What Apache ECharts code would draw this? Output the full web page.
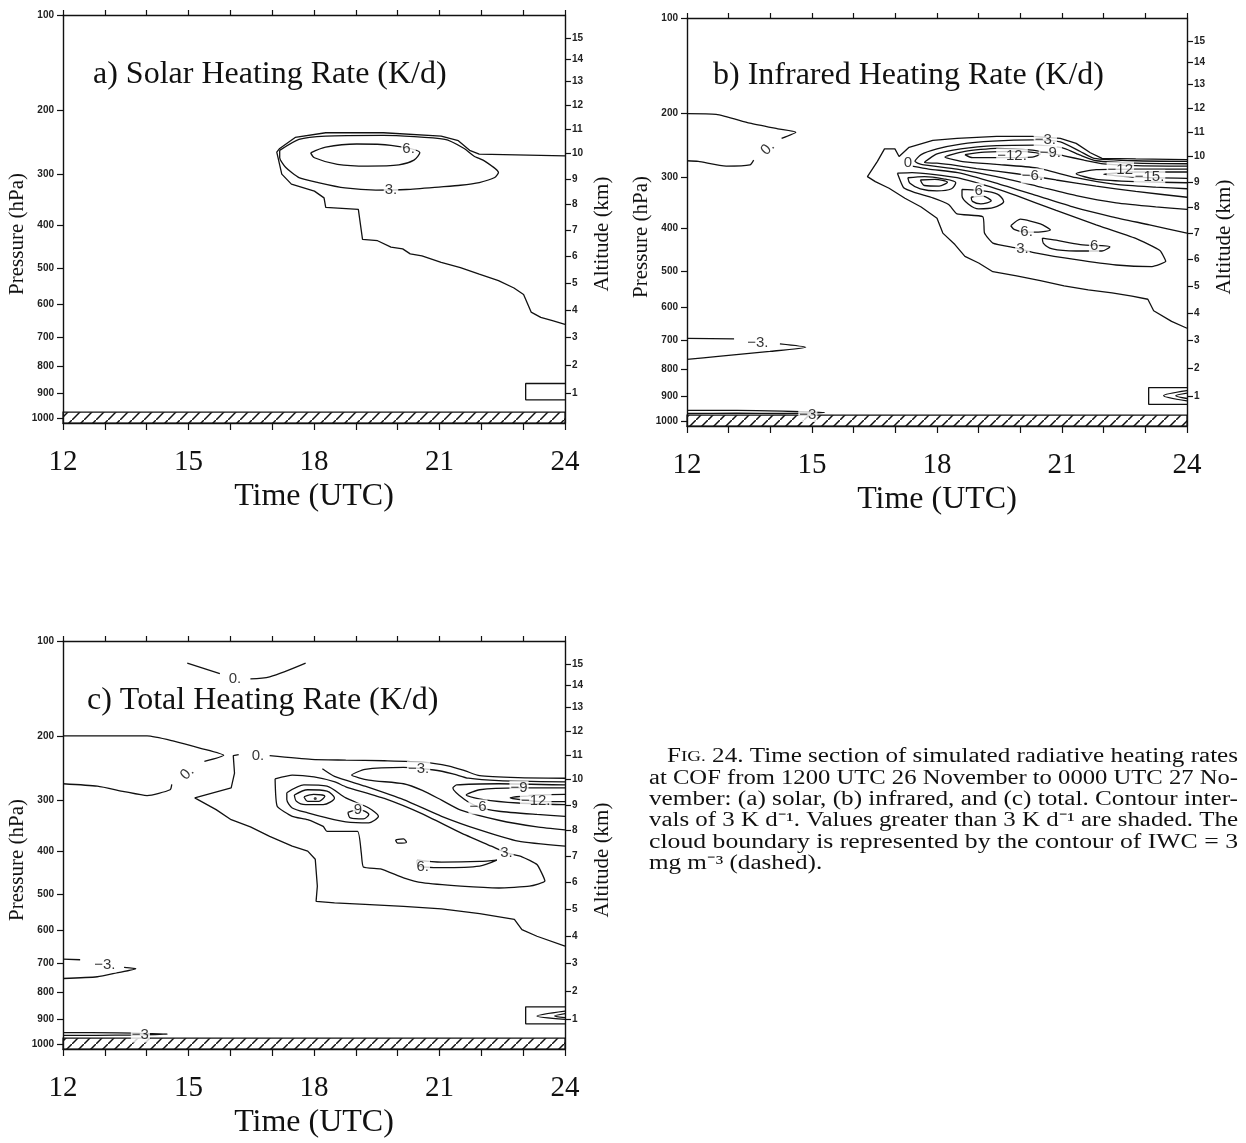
<!DOCTYPE html>
<html>
<head>
<meta charset="utf-8">
<title>Fig. 24 radiative heating rates</title>
<script src="https://cdn.jsdelivr.net/npm/echarts@6.0.0/dist/echarts.min.js"></script>
<style>
html,body{margin:0;padding:0;background:#fff}
#main{width:1246px;height:1143px}
</style>
</head>
<body>
<div id="main"></div>
<script>
// axis ticks
var pressureTicks = [100, 200, 300, 400, 500, 600, 700, 800, 900, 1000];
var altitudeTicks = [1, 2, 3, 4, 5, 6, 7, 8, 9, 10, 11, 12, 13, 14, 15];
var timeTicks = [12, 13, 14, 15, 16, 17, 18, 19, 20, 21, 22, 23, 24];
var timeLabels = [12, 15, 18, 21, 24];

// contours: [time UTC, pressure hPa]
// a) solar
var aBoundary = [[24,268],[21.95,265],[21.72,259],[21.45,244],[21.04,237],[19.66,232],[18.28,232],[17.55,239],[17.18,256],[17.11,262],[17.23,299],[17.46,317],[18.01,330],[18.24,343],[18.28,362],[19.06,366],[19.16,431],[19.52,434],[19.84,449],[20.12,453],[20.3,465],[20.58,470],[21.04,486],[21.5,499],[21.95,516],[22.41,533],[22.78,553],[23.01,571],[23.19,622],[23.42,638],[23.7,648],[24,659]];
var aThree = [[17.18,259],[17.64,242],[18.28,237],[19.66,236],[21.13,242],[21.59,256],[21.82,268],[22.09,277],[22.41,296],[22.32,305],[21.95,314],[21.5,319],[21.04,322],[20.21,327],[19.48,328],[18.74,324],[18.1,314],[17.64,305],[17.32,287],[17.18,271]];
var aSix = [[17.92,263],[18.28,254],[19.02,249],[19.84,251],[20.53,263],[20.39,275],[20.03,283],[19.29,285],[18.56,282],[18.01,271]];
var aBox = [[24,862],[23.06,862],[23.06,925],[24,925]];
var aLabels = [[20.26,257,'6.'],[19.84,328,'3.']];

// b) infrared
var bBoundary = [[24,269],[22.77,268],[21.96,267],[21.68,258],[21.34,243.5],[20.96,236],[20.29,233],[19.43,233],[18.48,236],[17.9,239],[17.33,249.5],[17.09,264],[16.99,252],[16.74,252],[16.57,272],[16.33,298],[16.52,307],[16.85,319],[17.23,338],[17.62,355],[18.0,378],[18.14,410],[18.43,436],[18.67,464],[19.0,480],[19.34,502],[19.91,513],[20.48,525],[21.05,539],[21.63,550],[22.2,558],[22.68,567],[23.06,576],[23.2,609],[23.63,641],[24,662]];
var bMinus3 = [[24,272],[22.77,271],[21.77,267],[21.44,256],[20.96,241],[20.29,238],[19.34,240],[18.57,244.5],[18.0,252],[17.62,261],[17.47,272],[17.62,277],[18.48,285],[19.43,298],[20.39,315],[21.34,333],[22.3,347],[23.25,355],[24,360]];
var bMinus6 = [[24,276],[22.77,275],[21.82,271],[21.44,262],[21.05,251],[20.39,246],[19.43,247],[18.57,252],[18.0,260],[17.7,274],[18.0,275],[18.48,279],[18.95,284],[19.91,293],[20.29,297],[20.86,304],[21.82,315],[22.77,325],[24,336]];
var bMinus9 = [[24,280],[22.77,279],[22.0,276],[21.53,270],[21.05,263],[20.72,259],[20.29,254],[19.43,251],[18.67,256],[18.19,265],[18.67,273],[19.43,277],[20.39,283],[21.34,300],[22.3,312],[23.25,317],[24,320]];
var bMinus12Left = [[18.67,261],[19.14,257],[20.0,256],[20.48,260],[20.29,265],[19.53,266],[18.86,266]];
var bMinus12Right = [[24,285],[22.77,285],[21.82,286],[21.34,293],[21.82,303],[22.77,307],[24,309]];
var bMinus15 = [[24,290],[22.77,290],[22.0,294],[22.77,299],[24,301]];
var bZero = [[17.4,280],[17.8,285],[18.5,291],[19.4,309],[20.4,333],[21.3,356],[22.2,375],[23.1,392],[24,410]];
var bThree = [[17.05,292],[17.4,291],[17.9,294],[18.48,300],[19.43,320],[19.91,333],[20.86,362],[21.82,392],[22.77,422],[23.35,450],[23.49,476],[23.16,489],[22.3,485],[21.34,472],[20.39,456],[19.91,444],[19.34,432.5],[19.14,410],[19.1,375],[18.48,369],[18.28,350],[17.9,337],[17.47,327],[17.2,318]];
var bSixA = [[17.3,300],[17.7,298],[18.15,302],[18.45,309],[18.35,320],[18.0,324],[17.6,320],[17.35,310]];
var bNineA = [[17.6,304],[17.95,303],[18.25,308],[18.05,315],[17.7,314]];
var bSixB = [[18.6,321],[19.0,323],[19.45,330],[19.6,344],[19.37,356],[19.0,359],[18.75,349],[18.6,333]];
var bNineB = [[18.82,336],[19.1,334],[19.3,343],[19.05,349],[18.85,344]];
var bSixC = [[19.77,394],[20.0,380],[20.48,390],[20.72,403],[20.43,408],[20.1,408],[19.85,402]];
var bSixD = [[20.53,421],[20.86,426],[21.44,436],[22.15,441],[21.96,451],[21.34,451],[20.77,446],[20.55,432.5]];
var bUpperZero1 = [[12,201],[12.7,202],[13.51,214],[14.18,222],[14.61,227],[14.27,236]];
var bUpperZero2 = [[13.6,270],[13.51,278],[12.94,280],[12.27,272],[12,271]];
var bLowMinus3a = [[12,694],[13.13,696]];
var bLowMinus3b = [[14.23,712],[14.85,723],[13.99,737],[12.75,754],[12,764]];
var bSurfMinus3 = [[12,955],[13.2,955],[14.3,958],[15.3,964],[14.3,968],[13.2,967],[12,968]];
var bBox = [[24,866],[23.08,866],[23.08,931],[24,931]];
var bBoxIn1 = [[24,878],[23.44,897],[24,917]];
var bBoxIn2 = [[24,887],[23.73,897],[24,908]];
var bLabels = [[20.6,238.5,'\u22123.'],[19.8,263,'\u221212.'],[20.72,259,'\u22129.'],[20.29,297,'\u22126.'],[22.4,285.5,'\u221212'],[23.1,299,'\u221215.'],[17.3,274,'0'],[19.0,323,'6'],[20.15,408,'6.'],[21.77,439,'6'],[20.05,447,'3.'],[13.7,708,'\u22123.'],[14.9,972,'\u22123']];
var bTilted = [[13.94,251,'0.']];

// c) total
var cTopZero1 = [[14.97,119],[15.75,129]];
var cTopZero2 = [[16.48,134],[16.94,132],[17.8,119]];
var cLeftZero1 = [[12,200],[14.01,200],[14.65,207],[15.29,217],[15.84,227],[15.38,236]];
var cLeftZero2 = [[14.6,272],[14.56,281],[14.01,291],[13.46,284],[12.82,275],[12,271]];
var cZeroTop = [[16.94,227.5],[17.94,233],[18.76,234],[19.68,235],[20.59,237],[21.23,243],[21.6,250],[21.96,258],[22.88,261],[24,262]];
var cZeroCloud = [[16.2,226],[16.07,227.5],[16.1,254],[16.02,278],[15.15,295],[15.66,316],[16.02,335],[16.48,349],[16.94,368],[17.48,388.5],[17.85,399],[18.03,417],[18.08,480.5],[18.05,519],[18.49,523],[19.22,527],[20.14,532.5],[21.05,539],[21.96,552],[22.79,568],[22.97,597],[23.33,616.5],[24,646.5]];
var cZeroLower = [[18.2,247],[18.49,259],[19.22,275],[20.14,298],[21.05,328.5],[21.96,355],[22.88,378],[24,388.5]];
var cMinus3 = [[24,268],[22.42,266],[21.69,262],[21.32,255],[20.87,249],[20.14,245],[19.22,248],[18.9,257],[19.31,265],[20.14,271],[20.59,282],[21.05,299],[21.51,317],[22.42,336],[23.33,349],[24,355]];
var cMinus6 = [[24,273],[22.42,271],[21.41,273],[21.32,278],[21.6,298],[21.92,311],[22.42,319],[23.33,325],[24,328.5]];
var cMinus9 = [[24,278],[22.88,278],[21.96,281],[21.64,290],[22.05,298],[22.88,304],[24,307]];
var cMinus12 = [[24,289],[23.33,290],[22.69,295],[23.33,301],[24,301.5]];
var cThree = [[17.07,263],[17.48,257],[18.0,260],[18.5,268],[18.76,276],[19.68,296],[20.59,324],[21.51,361],[22.24,388.5],[22.6,403],[22.97,411.5],[23.33,429],[23.52,468],[23.15,480.5],[22.42,485],[21.51,480.5],[20.59,472],[20.14,460],[19.59,439],[19.18,434.5],[19.13,403],[19.04,358],[18.31,358],[18.22,348],[17.85,335],[17.48,328.5],[17.12,310]];
var cSix = [[17.35,286],[17.76,273],[18.31,275],[18.76,295],[19.31,313],[19.54,328.5],[19.31,341],[18.76,339],[18.31,331.5],[17.85,322],[17.48,313],[17.35,298]];
var cNine = [[17.53,290],[17.85,281],[18.31,283.5],[18.49,295],[18.22,307],[17.8,307],[17.58,301]];
var cTwelve = [[17.76,293],[17.99,289],[18.26,292],[18.12,301],[17.85,301]];
var cNineB = [[18.81,321],[19.08,316],[19.31,325],[19.18,333.5],[18.87,331.5]];
var cSixB = [[20.46,419],[21.05,423.5],[21.96,422],[22.37,419],[21.96,432.5],[21.05,436],[20.5,432.5]];
var cSmall = [[19.95,375],[20.14,373],[20.21,380],[20.0,382]];
var cPeak = [[18.03,296]];
var cLowMinus3a = [[12,687],[12.41,689]];
var cLowMinus3b = [[13.46,714],[13.74,718],[13.28,732],[12.82,745],[12,751]];
var cSurfMinus3 = [[12,952],[13.3,953],[14.1,956],[14.5,958],[13.7,962],[12.8,963],[12,963]];
var cBox = [[24,852],[23.06,852],[23.06,917],[24,917]];
var cBoxIn1 = [[24,868],[23.33,887],[24,900]];
var cBoxIn2 = [[24,878],[23.75,887],[24,893]];
var cLabels = [[16.11,134,'0.'],[16.66,228.5,'0.'],[20.5,247,'\u22123.'],[21.92,311,'\u22126'],[22.9,278.5,'\u22129'],[23.3,301,'\u221212.'],[22.6,403,'3.'],[20.6,434,'6.'],[19.05,317,'9'],[13.0,706,'\u22123.'],[13.85,962,'\u22123']];
var cTilted = [[14.97,254,'0.']];

// ground
var surfaceTop = 975, surfaceBottom = 1020;

var INK = '#111';
var K = 0.286;
function sig(p) { return Math.pow(p / 1000, K); }
function pres(v) { return 1000 * Math.pow(v, 1 / K); }
// standard atmosphere, km <-> hPa
function pStd(z) {
	if (z <= 11) return 1013.25 * Math.pow(1 - 0.0065 * z * 1000 / 288.15, 5.25588);
	return 226.32 * Math.exp(-(z - 11) * 1000 * 9.80665 / (287.053 * 216.65));
}
function zStd(p) {
	if (p >= 226.32) return 288.15 / 0.0065 * (1 - Math.pow(p / 1013.25, 1 / 5.25588)) / 1000;
	return 11 + 287.053 * 216.65 / 9.80665 * Math.log(226.32 / p) / 1000;
}

function hatch() {
	var c = document.createElement('canvas');
	c.width = 12; c.height = 12;
	var g = c.getContext('2d');
	g.strokeStyle = INK; g.lineWidth = 1.5;
	g.beginPath();
	g.moveTo(-1, 13); g.lineTo(13, -1);
	g.stroke();
	return c;
}
var hatchImg = hatch();

var series = [];
function line(panel, pts, smooth, closed) {
	var d = pts.map(function (q) { return [q[0], sig(q[1])]; });
	if (closed) d.push(d[0]);
	series.push({
		type: 'line', xAxisIndex: 2 * panel, yAxisIndex: 2 * panel,
		data: d, symbol: 'none', smooth: smooth || 0, silent: true, z: 3,
		lineStyle: { color: INK, width: 1.3 }
	});
}
function labels(panel, items, rot) {
	series.push({
		type: 'scatter', xAxisIndex: 2 * panel, yAxisIndex: 2 * panel, silent: true, z: 5,
		symbolSize: 1, itemStyle: { color: 'rgba(0,0,0,0)' },
		data: items.map(function (q) { return { value: [q[0], sig(q[1])], name: q[2] }; }),
		label: {
			show: true, position: 'inside', formatter: '{b}', rotate: rot || 0,
			fontFamily: 'Liberation Sans', fontSize: 15, color: '#000',
			backgroundColor: '#fff', padding: [0, 1]
		}
	});
}
function ground(panel) {
	series.push({
		type: 'line', xAxisIndex: 2 * panel, yAxisIndex: 2 * panel, data: [], silent: true,
		markArea: {
			silent: true,
			itemStyle: { color: { image: hatchImg, repeat: 'repeat' }, borderColor: INK, borderWidth: 1.2 },
			data: [[{ coord: [12, sig(surfaceTop)] }, { coord: [24, sig(surfaceBottom)] }]]
		}
	});
}

// a
line(0, aBoundary); line(0, aThree, 0.2, true); line(0, aSix, 0.3, true); line(0, aBox);
labels(0, aLabels); ground(0);
// b
line(1, bBoundary); line(1, bMinus3, 0.2); line(1, bMinus6, 0.2); line(1, bMinus9, 0.2);
line(1, bMinus12Left, 0.3, true); line(1, bMinus12Right, 0.2); line(1, bMinus15, 0.2);
line(1, bZero, 0.2); line(1, bThree, 0.15, true);
line(1, bSixA, 0.3, true); line(1, bNineA, 0.3, true); line(1, bSixB, 0.3, true); line(1, bNineB, 0.3, true);
line(1, bSixC, 0.2, true); line(1, bSixD, 0.3, true);
line(1, bUpperZero1, 0.2); line(1, bUpperZero2, 0.2);
line(1, bLowMinus3a); line(1, bLowMinus3b, 0.2); line(1, bSurfMinus3, 0.2);
line(1, bBox); line(1, bBoxIn1, 0.3); line(1, bBoxIn2, 0.3);
labels(1, bLabels); labels(1, bTilted, 45); ground(1);
// c
line(2, cTopZero1, 0.2); line(2, cTopZero2, 0.3);
line(2, cLeftZero1, 0.2); line(2, cLeftZero2, 0.2);
line(2, cZeroTop, 0.2); line(2, cZeroCloud); line(2, cZeroLower, 0.2);
line(2, cMinus3, 0.2); line(2, cMinus6, 0.2); line(2, cMinus9, 0.2); line(2, cMinus12, 0.2);
line(2, cThree, 0.15, true); line(2, cSix, 0.25, true); line(2, cNine, 0.3, true); line(2, cTwelve, 0.3, true);
line(2, cNineB, 0.3, true); line(2, cSixB, 0.3, true); line(2, cSmall, 0.3, true);
line(2, cLowMinus3a); line(2, cLowMinus3b, 0.2); line(2, cSurfMinus3, 0.2);
line(2, cBox); line(2, cBoxIn1, 0.3); line(2, cBoxIn2, 0.3);
labels(2, cLabels); labels(2, cTilted, 45); ground(2);
series.push({
	type: 'scatter', xAxisIndex: 4, yAxisIndex: 4, silent: true, z: 4, symbolSize: 3,
	itemStyle: { color: INK }, data: cPeak.map(function (q) { return [q[0], sig(q[1])]; })
});

var axisLine = { show: true, onZero: false, lineStyle: { color: INK, width: 1.4 } };
var xAxes = [], yAxes = [];
for (var g = 0; g < 3; g++) {
	xAxes.push({
		gridIndex: g, type: 'value', min: 12, max: 24, interval: 1, position: 'bottom',
		axisLine: axisLine,
		axisTick: { show: true, length: 7, customValues: timeTicks, lineStyle: { color: INK, width: 1.2 } },
		axisLabel: { customValues: timeLabels, fontFamily: 'Liberation Serif', fontSize: 29, color: INK, margin: 25 },
		splitLine: { show: false },
		name: 'Time (UTC)', nameLocation: 'middle', nameGap: 58,
		nameTextStyle: { fontFamily: 'Liberation Serif', fontSize: 32, color: INK }
	});
	xAxes.push({
		gridIndex: g, type: 'value', min: 12, max: 24, interval: 1, position: 'top',
		axisLine: axisLine,
		axisTick: { show: true, length: 5, lineStyle: { color: INK, width: 1.2 } },
		axisLabel: { show: false }, splitLine: { show: false }
	});
	yAxes.push({
		gridIndex: g, type: 'value', inverse: true, min: sig(100), max: sig(surfaceBottom), position: 'left',
		axisLine: axisLine,
		axisTick: { show: true, length: 6, customValues: pressureTicks.map(sig), lineStyle: { color: INK, width: 1.2 } },
		axisLabel: {
			customValues: pressureTicks.map(sig),
			formatter: function (v) { return String(Math.round(pres(v))); },
			fontFamily: 'Liberation Sans', fontSize: 10, fontWeight: 'bold', color: '#222', margin: 9
		},
		splitLine: { show: false },
		name: 'Pressure (hPa)', nameLocation: 'middle', nameGap: 28, nameRotate: 90,
		nameTextStyle: { fontFamily: 'Liberation Serif', fontSize: 21, color: INK, padding: [0, 30, 0, 0] }
	});
	yAxes.push({
		gridIndex: g, type: 'value', inverse: true, min: sig(100), max: sig(surfaceBottom), position: 'right',
		axisLine: axisLine,
		axisTick: { show: true, length: 6, customValues: altitudeTicks.map(function (z) { return sig(pStd(z)); }), lineStyle: { color: INK, width: 1.2 } },
		axisLabel: {
			customValues: altitudeTicks.map(function (z) { return sig(pStd(z)); }),
			formatter: function (v) { return String(Math.round(zStd(pres(v)))); },
			fontFamily: 'Liberation Sans', fontSize: 10, fontWeight: 'bold', color: '#222', margin: 7
		},
		splitLine: { show: false },
		name: 'Altitude (km)', nameLocation: 'middle', nameGap: 27, nameRotate: 90,
		nameTextStyle: { fontFamily: 'Liberation Serif', fontSize: 21, color: INK, padding: [0, 30, 0, 0] }
	});
}

// caption, each line stretched to the column width like the justified original
var captionLines = [
	[['F', 1], ['IG.', 0.76], [' 24. Time section of simulated radiative heating rates', 1]],
	[['at COF from 1200 UTC 26 November to 0000 UTC 27 No-', 1]],
	[['vember: (a) solar, (b) infrared, and (c) total. Contour inter-', 1]],
	[['vals of 3 K d\u207B\u00B9. Values greater than 3 K d\u207B\u00B9 are shaded. The', 1]],
	[['cloud boundary is represented by the contour of IWC = 3', 1]],
	[['mg m\u207B\u00B3 (dashed).', 1]]
];
var capLeft = [667, 649, 649, 649, 649, 649], capRight = 1238;
var capY = [757, 779, 800, 821, 843, 864], capSize = 20;
var mctx = document.createElement('canvas').getContext('2d');
var graphics = [], scales = [];
captionLines.forEach(function (segs, i) {
	var w = 0, rich = {}, txt = '';
	segs.forEach(function (sg, j) {
		var fs = capSize * sg[1];
		mctx.font = fs + 'px "Liberation Serif"';
		w += mctx.measureText(sg[0]).width;
		rich['s' + j] = { fontSize: fs, fontFamily: 'Liberation Serif', fill: INK };
		txt += '{s' + j + '|' + sg[0] + '}';
	});
	var k = (capRight - capLeft[i]) / w;
	if (i < captionLines.length - 1) scales.push(k);
	else k = scales.reduce(function (a, b) { return a + b; }, 0) / scales.length;
	graphics.push({
		type: 'text', x: capLeft[i], y: capY[i], scaleX: k, silent: true,
		style: { text: txt, rich: rich, fill: INK, fontFamily: 'Liberation Serif', fontSize: capSize,
			verticalAlign: 'middle', textVerticalAlign: 'middle' }
	});
});

var titleStyle = { fontFamily: 'Liberation Serif', fontSize: 32, fontWeight: 'normal', color: INK };
var option = {
	backgroundColor: '#fff',
	animation: false,
	title: [
		{ text: 'a) Solar Heating Rate (K/d)', left: 93, top: 59, padding: 0, textStyle: titleStyle },
		{ text: 'b) Infrared Heating Rate (K/d)', left: 713, top: 60, padding: 0, textStyle: titleStyle },
		{ text: 'c) Total Heating Rate (K/d)', left: 87, top: 685, padding: 0, textStyle: titleStyle }
	],
	grid: [
		{ left: 63, top: 15, width: 502, height: 408 },
		{ left: 687, top: 18, width: 500, height: 408 },
		{ left: 63, top: 641, width: 502, height: 408 }
	],
	xAxis: xAxes,
	yAxis: yAxes,
	series: series,
	graphic: graphics
};
var myChart = echarts.init(document.getElementById('main'));
myChart.setOption(option);
</script>
</body>
</html>
